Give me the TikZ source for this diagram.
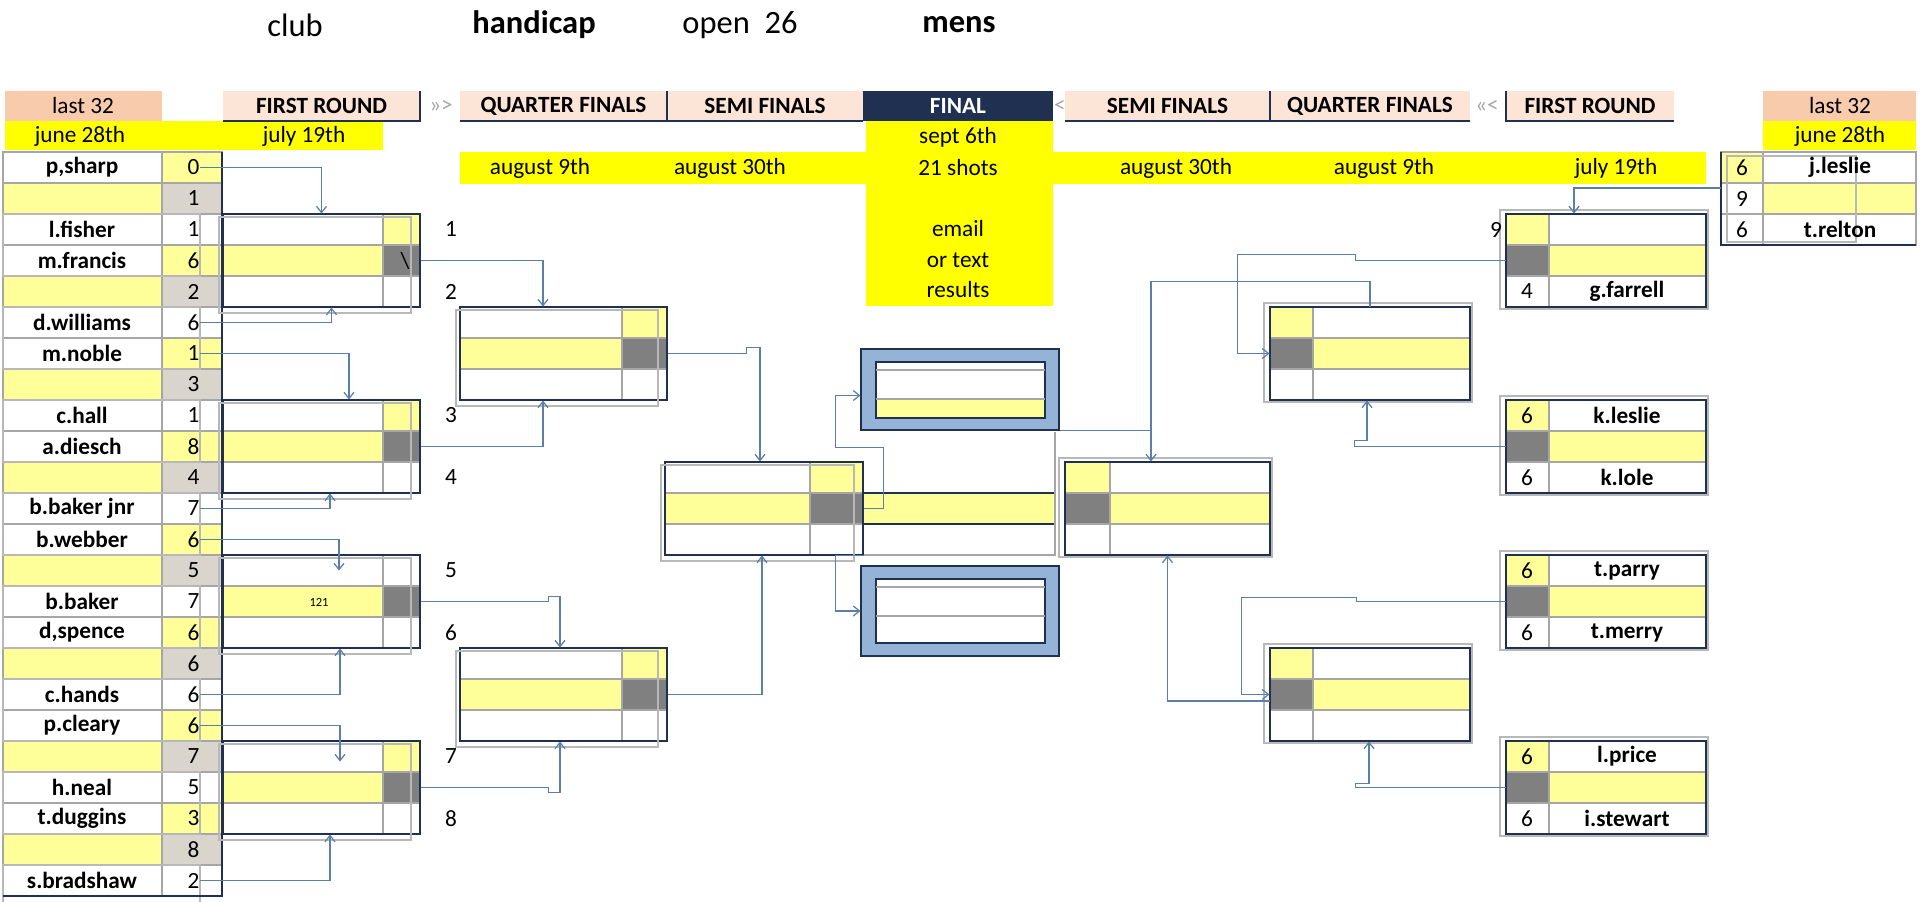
\documentclass[tikz,border=0pt]{standalone}
\usepackage{fontspec}
\setmainfont{Carlito}
\usetikzlibrary{positioning,fit,arrows.meta}
\definecolor{lyel}{HTML}{FFFF99}
\definecolor{byel}{HTML}{FFFF00}
\definecolor{peach}{HTML}{F8CBAD}
\definecolor{lpeach}{HTML}{FCE4D6}
\definecolor{dgray}{HTML}{808080}
\definecolor{sgray}{HTML}{D9D5CC}
\definecolor{navy}{HTML}{1F3050}
\definecolor{fblue}{HTML}{95B3D7}
\definecolor{linkc}{HTML}{5B7FA8}
\definecolor{gridc}{HTML}{A6A6A6}
\tikzset{
  grid/.style={draw=gridc, line width=0.5pt},
  frame/.style={draw=navy, line width=0.9pt},
  ghost/.style={draw=gridc!80, line width=1.1pt},
  wire/.style={draw=linkc, line width=0.5pt},
  link/.style={wire, -{Straight Barb[length=2.5pt,width=4pt]}},
  nm/.style={font=\bfseries\fontsize{9.3}{10}\selectfont, inner sep=0},
  sc/.style={font=\fontsize{9.3}{10}\selectfont, inner sep=0},
  hd/.style={font=\fontsize{9.3}{10}\selectfont, inner sep=0},
}
% box with score column on the right
\newcommand{\lbox}[6]{%
  \pgfmathsetmacro{\ya}{152+31*#5}\pgfmathsetmacro{\yb}{\ya+31}%
  \pgfmathsetmacro{\yc}{\ya+62}\pgfmathsetmacro{\yd}{\ya+93}%
  \fill[white] (#2,\ya) rectangle (#4,\yd);
  \fill[lyel] (#2,\yb) rectangle (#3,\yc);
  \fill[#6] (#3,\ya) rectangle (#4,\yb);
  \fill[dgray] (#3,\yb) rectangle (#4,\yc);
  \draw[grid] (#2,\yb) -- (#4,\yb) (#2,\yc) -- (#4,\yc) (#3,\ya) -- (#3,\yd);
  \draw[frame] (#2,\ya) rectangle (#4,\yd);
  \draw[ghost] (#2-4,\ya+3) rectangle (#4-9,\yd+6);
  \coordinate (#1-nw) at (#2,\ya); \coordinate (#1-se) at (#4,\yd);
  \node[fit=(#1-nw)(#1-se), inner sep=0] (#1) {};
}
% box with score column on the left
\newcommand{\rbox}[5]{%
  \pgfmathsetmacro{\ya}{152+31*#5}\pgfmathsetmacro{\yb}{\ya+31}%
  \pgfmathsetmacro{\yc}{\ya+62}\pgfmathsetmacro{\yd}{\ya+93}%
  \fill[white] (#2,\ya) rectangle (#4,\yd);
  \fill[lyel] (#3,\yb) rectangle (#4,\yc);
  \fill[lyel] (#2,\ya) rectangle (#3,\yb);
  \fill[dgray] (#2,\yb) rectangle (#3,\yc);
  \draw[grid] (#2,\yb) -- (#4,\yb) (#2,\yc) -- (#4,\yc) (#3,\ya) -- (#3,\yd);
  \draw[frame] (#2,\ya) rectangle (#4,\yd);
  \draw[ghost] (#2-6,\ya-4) rectangle (#4+2,\yd+2);
  \coordinate (#1-nw) at (#2,\ya); \coordinate (#1-se) at (#4,\yd);
  \node[fit=(#1-nw)(#1-se), inner sep=0] (#1) {};
}
\newcommand{\hdr}[5]{%
  \fill[#5] (#2,91) rectangle (#3,121);
  \node[nm] (#1) at ({(#2+#3)/2},106) {#4};
}
\begin{document}
\begin{tikzpicture}[x=0.4pt, y=-0.4pt]
  \useasboundingbox (0,0) rectangle (1920,901);
  % title
  \node[font=\fontsize{13}{14}\selectfont] (t1) at (295,25) {club};
  \node[font=\bfseries\fontsize{13}{14}\selectfont] (t2) at (534,25) {handicap};
  \node[font=\fontsize{13}{14}\selectfont] (t3) at (740,25) {open\ \ 26};
  \node[font=\bfseries\fontsize{13}{14}\selectfont] (t4) at (959,25) {mens};
  % headers
  \fill[byel] (5,121) rectangle (383,150);
  \fill[byel] (1763,121) rectangle (1916,150);
  \fill[byel] (460,152) rectangle (1706,184);
  \fill[byel] (866,121) rectangle (1053,306);
  \fill[peach] (5,91) rectangle (162,121);
  \node[hd] (l32a) at (83,106) {last 32};
  \fill[peach] (1763,91) rectangle (1916,121);
  \node[hd] (l32b) at (1840,106) {last 32};
  \hdr{frl}{223}{420}{FIRST ROUND}{lpeach}
  \hdr{qfl}{460}{667}{QUARTER FINALS}{lpeach}
  \hdr{sfl}{667}{863}{SEMI FINALS}{lpeach}
  \fill[navy] (863,91) rectangle (1053,121);
  \node[nm, text=white] (fin) at (958,106) {FINAL};
  \hdr{sfr}{1065}{1270}{SEMI FINALS}{lpeach}
  \hdr{qfr}{1270}{1470}{QUARTER FINALS}{lpeach}
  \hdr{frr}{1506}{1674}{FIRST ROUND}{lpeach}
  \draw[frame] (223,121) -- (420,121) -- (420,91) (460,121) -- (863,121) (667,91) -- (667,121)
    (1065,121) -- (1470,121) (1270,91) -- (1270,121) (1506,91) -- (1506,121) -- (1674,121);
  \node[hd, text=gridc] (arl) at (441,106) {>>>};
  \node[hd, text=gridc] (arr) at (1060,106) {<};
  \node[hd, text=gridc] (arr2) at (1487,106) {<<<};
  % dates
  \node[hd] (d1) at (80,136) {june 28th};
  \node[hd] (d2) at (304,136) {july 19th};
  \node[hd] (d3) at (1840,136) {june 28th};
  \node[hd] (d4) at (958,137) {sept 6th};
  \node[hd] (d5) at (540,168) {august 9th};
  \node[hd] (d6) at (730,168) {august 30th};
  \node[hd] (d7) at (958,168) {21 shots};
  \node[hd] (d8) at (1176,168) {august 30th};
  \node[hd] (d9) at (1384,168) {august 9th};
  \node[hd] (d10) at (1616,168) {july 19th};
  \node[hd] (m1) at (958,229) {email};
  \node[hd] (m2) at (958,260) {or text};
  \node[hd] (m3) at (958,290) {results};
  % last 32, left
  \foreach \r/\nme/\s/\nf/\sf in {0/{p,sharp}/0/white/lyel, 1//1/lyel/sgray, 2/l.fisher/1/white/white,
      3/m.francis/6/white/lyel, 4//2/lyel/sgray, 5/d.williams/6/white/white,
      6/m.noble/1/white/lyel, 7//3/lyel/sgray, 8/c.hall/1/white/white,
      9/a.diesch/8/white/lyel, 10//4/lyel/sgray, 11/b.baker jnr/7/white/white,
      12/b.webber/6/white/lyel, 13//5/lyel/sgray, 14/b.baker/7/white/white,
      15/{d,spence}/6/white/lyel, 16//6/lyel/sgray, 17/c.hands/6/white/white,
      18/p.cleary/6/white/lyel, 19//7/lyel/sgray, 20/h.neal/5/white/white,
      21/t.duggins/3/white/lyel, 22//8/lyel/sgray, 23/s.bradshaw/2/white/white} {
    \pgfmathsetmacro{\yt}{152+31*\r}
    \fill[\nf] (3,\yt) rectangle (162,\yt+31);
    \fill[\sf] (162,\yt) rectangle (222,\yt+31);
    \draw[grid] (3,\yt) rectangle (162,\yt+31) (162,\yt) rectangle (222,\yt+31);
    \node[nm] (ln\r) at (82,\yt+15.5) {\nme};
    \node[sc, anchor=east] (ls\r) at (200,\yt+15.5) {\s};
  }
  \foreach \r in {0,3,...,21} {
    \draw[ghost] (3,152+31*\r+62) rectangle (200,152+31*\r+124);
  }
  \draw[frame] (222,152) -- (222,896) -- (3,896);
  % first round, left
  \lbox{L1}{223}{383}{420}{2}{lyel}
  \lbox{L2}{223}{383}{420}{8}{lyel}
  \lbox{L3}{223}{383}{420}{13}{white}
  \lbox{L4}{223}{383}{420}{19}{lyel}
  \node[sc] (bs) at (405,261) {\textbackslash};
  \node[font=\fontsize{5}{6}\selectfont] (n121) at (319,602) {121};
  \foreach \n/\r in {1/2,2/4,3/8,4/10,5/13,6/15,7/19,8/21}
    \node[sc] (no\n) at (451,152+31*\r+15.5) {\n};
  % quarter finals and semi finals
  \lbox{QA}{460}{622}{667}{5}{lyel}
  \lbox{QB}{460}{622}{667}{16}{lyel}
  \fill[lyel] (863,493) rectangle (1055,524);
  \draw[frame] (863,493) -- (1055,493) (863,524) -- (1055,524);
  \draw[grid] (863,555) -- (1055,555) -- (1055,432);
  \lbox{SL}{665}{810}{863}{10}{lyel}
  \rbox{SR}{1065}{1110}{1270}{10}
  \rbox{RQA}{1270}{1313}{1470}{5}
  \rbox{RQB}{1270}{1313}{1470}{16}
  % final
  \fill[fblue] (861,349) rectangle (1059,430);
  \fill[white] (876,362) rectangle (1045,418);
  \fill[lyel] (876,399) rectangle (1045,418);
  \draw[frame] (861,349) rectangle (1059,430) (876,362) rectangle (1045,418);
  \draw[grid] (876,370) -- (1045,370) (876,399) -- (1045,399);
  \coordinate (ft-nw) at (861,349); \coordinate (ft-se) at (1059,430);
  \node[fit=(ft-nw)(ft-se), inner sep=0] (FT) {};
  \fill[fblue] (861,566) rectangle (1059,656);
  \fill[white] (876,579) rectangle (1045,643);
  \draw[frame] (861,566) rectangle (1059,656) (876,579) rectangle (1045,643);
  \draw[grid] (876,587) -- (1045,587) (876,616) -- (1045,616);
  \coordinate (fb-nw) at (861,566); \coordinate (fb-se) at (1059,656);
  \node[fit=(fb-nw)(fb-se), inner sep=0] (FB) {};
  % last 32, right
  \fill[lyel] (1721,152) rectangle (1763,183) (1763,183) rectangle (1916,214);
  \draw[grid] (1721,152) grid[xstep=1,ystep=1] (1721,152);
  \foreach \r in {0,1,2}
    \draw[grid] (1721,152+31*\r) rectangle (1763,183+31*\r) (1763,152+31*\r) rectangle (1916,183+31*\r);
  \draw[frame] (1721,152) -- (1721,245) -- (1916,245);
  \draw[ghost] (1727,156) rectangle (1856,242);
  \coordinate (rl-nw) at (1721,152); \coordinate (rl-se) at (1916,245);
  \node[fit=(rl-nw)(rl-se), inner sep=0] (RL) {};
  \node[sc] (rs0) at (1742,167.5) {6};
  \node[nm] (rn0) at (1840,167.5) {j.leslie};
  \node[sc] (rs1) at (1742,198.5) {9};
  \node[sc] (rs2) at (1742,229.5) {6};
  \node[nm] (rn2) at (1840,229.5) {t.relton};
  % first round, right
  \rbox{R1}{1506}{1549}{1706}{2}
  \rbox{R2}{1506}{1549}{1706}{8}
  \rbox{R3}{1506}{1549}{1706}{13}
  \rbox{R4}{1506}{1549}{1706}{19}
  \node[sc] (r9) at (1496,229.5) {9};
  \foreach \b/\r/\sa/\na/\sb/\nb in {R1/2//{}/4/g.farrell, R2/8/6/k.leslie/6/k.lole,
      R3/13/6/t.parry/6/t.merry, R4/19/6/l.price/6/i.stewart} {
    \node[sc] (\b-sa) at (1527,152+31*\r+15.5) {\sa};
    \node[nm] (\b-na) at (1627,152+31*\r+15.5) {\na};
    \node[sc] (\b-sb) at (1527,152+31*\r+77.5) {\sb};
    \node[nm] (\b-nb) at (1627,152+31*\r+77.5) {\nb};
  }
  % connectors, left
  \draw[link] (ls0.east) -| (L1.north);
  \draw[link] (ls5.east) -| ([xshift=4pt]L1.south);
  \draw[link] (ls6.east) -| ([xshift=11pt]L2.north);
  \draw[link] (ls11.east) -| ([xshift=3.4pt]L2.south);
  \draw[link] (ls12.east) -| ([xshift=7pt,yshift=-6.4pt]L3.north);
  \draw[link] (ls17.east) -| ([xshift=7.4pt]L3.south);
  \draw[link] (ls18.east) -| ([xshift=7.4pt,yshift=-8.4pt]L4.north);
  \draw[link] (ls23.east) -| ([xshift=3.4pt]L4.south);
  \draw[link] (L1.east) -| ([xshift=-8.2pt]QA.north);
  \draw[link] (L2.east) -| ([xshift=-8.2pt]QA.south);
  \draw[link] (L3.east) -- ++(128,0) -- ++(0,-5) -| ([xshift=-1.4pt]QB.north);
  \draw[link] (L4.east) -- ++(128,0) -- ++(0,5) -| ([xshift=-1.4pt]QB.south);
  \draw[link] (QA.east) -- ++(79,0) -- ++(0,-6) -| ([xshift=-1.6pt]SL.north);
  \draw[link] (QB.east) -| ([xshift=-0.8pt]SL.south);
  \draw[link] (SL.east) -- ++(20,0) -- ++(0,-61) -- ++(-48,0) |- ([yshift=-2.4pt]FT.west);
  \draw[link] (SL.south east) -- ++(-28,0) |- (FB.west);
  % connectors, right
  \draw[wire] (FT.south east) -- ++(92,0);
  \draw[link] (RQA.north) -- ++(0,-25) -| ([xshift=-6.6pt]SR.north);
  \draw[link] ([yshift=-2.6pt]RQB.west) -| (SR.south);
  \draw[link] ([yshift=4.2pt]RL.west) -| ([xshift=-12.8pt]R1.north);
  \draw[link] (R1.west) -- ++(-150,0) -- ++(0,-6) -- ++(-118,0) |- (RQA.west);
  \draw[link] (R2.west) -- ++(-151,0) -- ++(0,-6) -| ([xshift=-1.2pt]RQA.south);
  \draw[link] (R3.west) -- ++(-149,0) -- ++(0,-4) -- ++(-115,0) |- (RQB.west);
  \draw[link] (R4.west) -- ++(-150,0) -- ++(0,-4) -| ([xshift=-0.4pt]RQB.south);
\end{tikzpicture}
\end{document}
